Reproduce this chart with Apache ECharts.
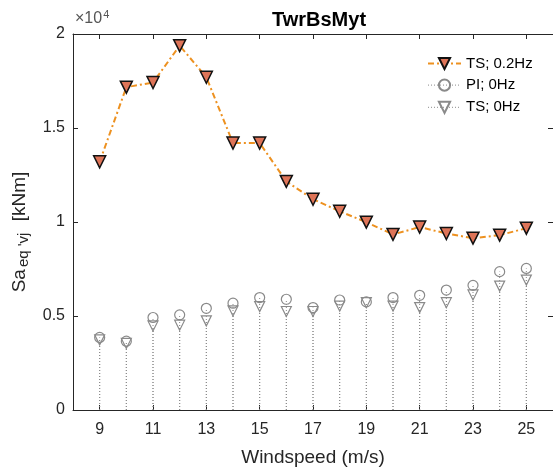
<!DOCTYPE html>
<html><head><meta charset="utf-8">
<script src="https://cdn.jsdelivr.net/npm/echarts@6/dist/echarts.min.js"></script>
<style>html,body{margin:0;padding:0;background:#fff}#c{width:553px;height:472px}</style>
</head><body><div id="c"></div>
<script>
const windspeed = [9,10,11,12,13,14,15,16,17,18,19,20,21,22,23,24,25];
const ts02 = [13200,17170,17420,19380,17700,14200,14200,12160,11210,10570,9990,9340,9730,9390,9140,9300,9670];
const pi0  = [3860,3660,4920,5060,5410,5680,5980,5890,5450,5850,5750,5980,6100,6380,6630,7360,7530];
const ts0  = [3730,3540,4470,4510,4740,5270,5500,5240,5240,5530,5710,5530,5450,5710,6120,6590,6910];
const xTicks = [9,11,13,15,17,19,21,23,25];

const FONT = 'Liberation Sans, Arial, sans-serif';
const AX = '#262626';
const GRAY = '#8a8a8a';
const ORANGE = '#ED9120';

function pairs(ys){ return windspeed.map((x,i)=>[x,ys[i]]); }

function stemSeries(ys){
  return {
    type:'custom', silent:true, z:1,
    data: pairs(ys),
    renderItem:function(params, api){
      const p0 = api.coord([api.value(0), 0]);
      const p1 = api.coord([api.value(0), api.value(1)]);
      return {type:'line', shape:{x1:p0[0],y1:p0[1],x2:p1[0],y2:p1[1]},
        style:{stroke:GRAY, lineWidth:1, lineDash:[1,2]}};
    }
  };
}

const chart = echarts.init(document.getElementById('c'));
const xBase = {type:'value', min:8, max:26, interval:1,
  axisLine:{show:true, onZero:false, lineStyle:{color:AX, width:1}},
  axisTick:{show:true, inside:true, length:5, customValues:xTicks, lineStyle:{color:AX}},
  splitLine:{show:false}};
const yBase = {type:'value', min:0, max:20000, interval:5000,
  axisLine:{show:true, onZero:false, lineStyle:{color:AX, width:1}},
  axisTick:{show:true, inside:true, length:5, lineStyle:{color:AX}},
  splitLine:{show:false}};

chart.setOption({
  animation:false,
  title:{text:'TwrBsMyt', left:314, top:5, textAlign:'center',
    textStyle:{fontFamily:FONT, fontSize:20, fontWeight:'bold', color:'#000'}},
  grid:{left:73, top:34, right:0, bottom:61, containLabel:false},
  xAxis:[
    Object.assign({}, xBase, {position:'bottom',
      name:'Windspeed (m/s)', nameLocation:'middle', nameGap:38,
      nameTextStyle:{fontFamily:FONT, fontSize:19, color:AX},
      axisLabel:{show:true, customValues:xTicks, margin:12, fontFamily:FONT, fontSize:16, color:AX}}),
    Object.assign({}, xBase, {position:'top', axisLabel:{show:false}})
  ],
  yAxis:[
    Object.assign({}, yBase, {position:'left',
      name:'{a|Sa}{s|eq \'vj}{a| [kNm]}', nameLocation:'middle', nameGap:39,
      nameTextStyle:{fontFamily:FONT, color:AX, padding:[0,20,0,0],
        rich:{a:{fontFamily:FONT, fontSize:19, color:AX},
              s:{fontFamily:FONT, fontSize:15, color:AX, verticalAlign:'bottom', padding:[10,6,0,2]}}},
      axisLabel:{show:true, margin:8, fontFamily:FONT, fontSize:16, color:AX,
        formatter:function(v){return String(v/10000);}}}),
    Object.assign({}, yBase, {position:'right', axisLabel:{show:false}})
  ],
  legend:{
    orient:'vertical', left:422, top:51, itemWidth:33, itemHeight:14, itemGap:6,
    textStyle:{fontFamily:FONT, fontSize:15, color:'#000'},
    data:[
      {name:'TS; 0.2Hz'},
      {name:'PI; 0Hz', lineStyle:{color:GRAY, width:1, type:[1,2], opacity:1}},
      {name:'TS; 0Hz', lineStyle:{color:GRAY, width:1, type:[1,2], opacity:1}}
    ]
  },
  graphic:[{type:'text', left:75, top:9,
    style:{text:'{a|×10}{b|4}', rich:{a:{fontFamily:FONT, fontSize:16, fill:'#555'},
      b:{fontFamily:FONT, fontSize:11, fill:'#555', verticalAlign:'top', padding:[0,0,9,1]}}}}],
  series:[
    Object.assign(stemSeries(pi0), {xAxisIndex:0, yAxisIndex:0}),
    Object.assign(stemSeries(ts0), {xAxisIndex:0, yAxisIndex:0}),
    {name:'TS; 0.2Hz', type:'line', z:5, data:pairs(ts02),
      symbol:'triangle', symbolRotate:180, symbolSize:12, showSymbol:true,
      lineStyle:{color:ORANGE, width:2, type:[6,3,2,3]},
      itemStyle:{color:'#DE7458', borderColor:'#111', borderWidth:1.5}},
    {name:'PI; 0Hz', type:'line', z:3, data:pairs(pi0),
      symbol:'circle', symbolSize:10, showSymbol:true,
      lineStyle:{color:GRAY, width:1, opacity:0},
      itemStyle:{color:'none', borderColor:GRAY, borderWidth:1.2}},
    {name:'TS; 0Hz', type:'line', z:4, data:pairs(ts0),
      symbol:'triangle', symbolRotate:180, symbolSize:10, showSymbol:true,
      lineStyle:{color:GRAY, width:1, opacity:0},
      itemStyle:{color:'none', borderColor:GRAY, borderWidth:1.2}}
  ]
});
</script></body></html>
